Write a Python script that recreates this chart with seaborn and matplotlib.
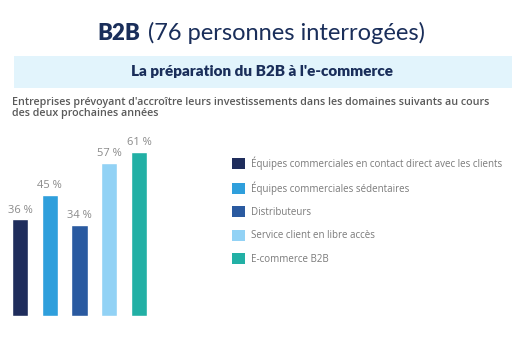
import matplotlib
matplotlib.use("Agg")
import matplotlib.pyplot as plt
import seaborn as sns
import pandas as pd
from matplotlib.patches import Rectangle, Patch

categories = [
    "Équipes commerciales en contact direct avec les clients",
    "Équipes commerciales sédentaires",
    "Distributeurs",
    "Service client en libre accès",
    "E-commerce B2B",
]
values = [36, 45, 34, 57, 61]
colors = ["#1f2d5c", "#2f9fdc", "#2a5aa0", "#92d2f5", "#22b0a5"]
value_labels = ["36 %", "45 %", "34 %", "57 %", "61 %"]

sns.set_theme(style="white")
plt.rcParams['font.family'] = ['Open Sans', 'DejaVu Sans']

W, H = 520, 339
fig = plt.figure(figsize=(W / 100, H / 100), dpi=100)
fig.patch.set_facecolor("white")

def fx(px):
    return px / W

def fy(py):
    return 1 - py / H

# Title
navy = "#1a2e5a"
fig.text(fx(97), fy(33), "B2B", fontsize=16, fontweight="heavy",
         family=["Lato", "DejaVu Sans"], color=navy, ha="left", va="center")
fig.text(fx(148), fy(33), "(76 personnes interrogées)", fontsize=17, fontweight="normal",
         family=["Lato", "DejaVu Sans"], color=navy, ha="left", va="center")

# Banner
fig.patches.append(Rectangle((fx(14), fy(88)), fx(512) - fx(14), fy(56) - fy(88),
                             transform=fig.transFigure, facecolor="#e2f4fc",
                             edgecolor="none", zorder=0))
fig.text(fx(262), fy(72), "La préparation du B2B à l'e-commerce", fontsize=11,
         fontweight="heavy", family=["Lato", "DejaVu Sans"], color=navy,
         ha="center", va="center")

# Subtitle
fig.text(fx(12), fy(108),
         "Entreprises prévoyant d'accroître leurs investissements dans les domaines suivants au cours\ndes deux prochaines années",
         fontsize=7.75, fontweight="semibold", color="#5a5a5a", ha="left", va="center",
         linespacing=1.0)

# Bar axes
ymax = 70
ax_left, ax_right = 5.1, 153.9
ax_bottom = 316
ax_top = ax_bottom - ymax * 2.69
ax = fig.add_axes([fx(ax_left), fy(ax_bottom), fx(ax_right) - fx(ax_left),
                   fy(ax_top) - fy(ax_bottom)])
df = pd.DataFrame({"cat": categories, "val": values})
sns.barplot(data=df, x="cat", y="val", hue="cat", palette=colors, order=categories,
            hue_order=categories, width=0.54, legend=False, ax=ax, saturation=1)
ax.set_xlim(-0.5, 4.5)
ax.set_ylim(0, ymax)
ax.axis("off")
for i, (v, lab) in enumerate(zip(values, value_labels)):
    ax.annotate(lab, (i, v), xytext=(0, 2.5), textcoords="offset points",
                ha="center", va="bottom", fontsize=8, color="#8a8a8a")

# Legend
handles = [Patch(facecolor=c, edgecolor="none") for c in colors]
fig.legend(handles, categories, loc="upper left",
           bbox_to_anchor=(fx(232), fy(156)), frameon=False,
           fontsize=7, labelcolor="#7a7a7a", handlelength=1.35,
           handleheight=1.35, handletextpad=0.65, labelspacing=1.2,
           borderaxespad=0, borderpad=0)

fig.savefig("out.png", dpi=100, facecolor="white")
